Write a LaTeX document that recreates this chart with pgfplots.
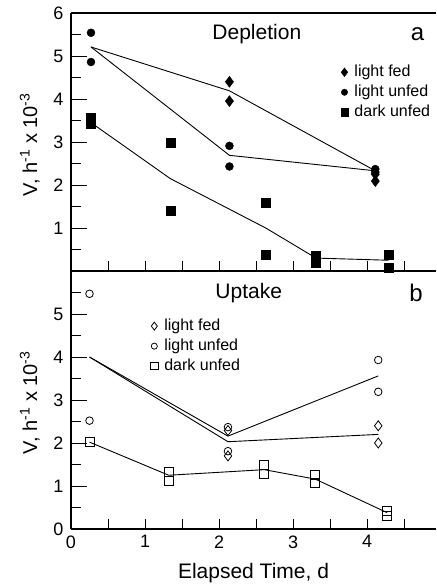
\documentclass[border=0pt]{standalone}
\usepackage{fontspec}
\setmainfont{Liberation Sans}
\usepackage{pgfplots}
\pgfplotsset{compat=1.18}
\pgfplotsset{
  panel/.style={
    scale only axis, width=365pt, height=258pt,
    xmin=0, xmax=4.93, ymin=0, ymax=6,
    axis x line=box, axis y line=left,
    y axis line style={-}, x axis line style={-},
    axis line style={line width=1.1pt},
    xtick={0,1,2,3,4}, major x tick style={draw=none},
    minor xtick={0.5,1,1.5,2,2.5,3,3.5,4,4.5},
    xtick pos=bottom, ytick pos=left,
    tick align=inside,
    major tick length=16pt, minor tick length=10pt,
    every tick/.style={black, line width=0.9pt},
    minor tick style={black, line width=0.9pt},
    /pgf/number format/assume math mode=true,
    tick label style={font=\fontsize{18}{18}\selectfont},
    yticklabel style={xshift=-4pt},
    xticklabel style={yshift=-3pt},
    ylabel={V, h\textsuperscript{-1} x 10\textsuperscript{-3}},
    ylabel style={at={(axis description cs:-0.113,0.49)}, anchor=center, font=\fontsize{20}{20}\selectfont},
    legend cell align=left,
    clip=false,
  },
  lfstyle/.style={black, line width=0.9pt},
  lm/.style={only marks, black,
    legend image code/.code={\path[draw=none, fill=none] (-5pt,-4pt) (9pt,4pt); \draw[##1, mark options={scale=0.8}] plot coordinates {(0pt,0pt)};}},
  leg/.style={draw=none, fill=none, anchor=north west,
    font=\fontsize{16}{16}\selectfont, inner sep=0pt, row sep=4pt,
    nodes={inner sep=1pt, text height=11pt, text depth=3pt}},
}
\begin{document}
\begin{tikzpicture}
\path[use as bounding box] (-71pt,-56pt) rectangle (365pt,529pt);
% ---------- top panel: Depletion ----------
\begin{axis}[panel, at={(0pt,258pt)}, anchor=south west,
  ytick={1,2,3,4,5,6}, minor ytick={0.5,1.5,2.5,3.5,4.5,5.5},
  xticklabels={},
  legend style={leg, at={(0.735,0.802)}},
]
\addplot[lm, mark=diamond*, mark size=5.5pt] coordinates {(2.14,4.40)(2.14,3.95)(4.11,2.25)(4.11,2.09)};
\addlegendentry{light fed}
\addplot[lm, mark=*, mark size=4pt] coordinates {(0.27,5.54)(0.27,4.86)(2.14,2.91)(2.14,2.43)(4.11,2.37)(4.11,2.30)};
\addlegendentry{light unfed}
\addplot[lm, mark=square*, mark size=4.5pt] coordinates {(0.27,3.56)(0.27,3.42)(1.34,2.98)(1.34,1.41)(2.63,1.59)(2.63,0.39)(3.31,0.35)(3.31,0.20)(4.29,0.37)(4.29,0.07)};
\addlegendentry{dark unfed}
\addplot[lfstyle, forget plot] coordinates {(0.27,5.21)(2.14,4.19)(4.11,2.33)};
\addplot[lfstyle, forget plot] coordinates {(0.27,5.21)(2.14,2.69)(4.11,2.33)};
\addplot[lfstyle, forget plot] coordinates {(0.27,3.45)(1.34,2.15)(2.63,1.0)(3.31,0.30)(4.29,0.25)};
\node[font=\fontsize{21}{21}\selectfont] at (axis cs:2.51,5.51) {Depletion};
\node[font=\fontsize{24}{24}\selectfont] at (axis cs:4.68,5.51) {a};
\end{axis}
% ---------- bottom panel: Uptake ----------
\begin{axis}[panel, at={(0pt,0pt)}, anchor=south west,
  ytick={0,1,2,3,4,5}, minor ytick={0.5,1.5,2.5,3.5,4.5,5.5},
  xticklabels={0,1,2,3,4},
  xlabel={Elapsed Time, d},
  xlabel style={at={(axis description cs:0.5,-0.17)}, anchor=center, font=\fontsize{21}{21}\selectfont},
  legend style={leg, at={(0.214,0.818)}},
]
\addplot[lm, mark=diamond, mark size=5pt, line width=0.8pt] coordinates {(2.12,2.29)(2.12,1.70)(4.15,2.40)(4.15,2.00)};
\addlegendentry{light fed}
\addplot[lm, mark=o, mark size=3.8pt, line width=0.8pt] coordinates {(0.25,5.47)(0.25,2.52)(2.12,2.37)(2.12,1.81)(4.15,3.93)(4.15,3.19)};
\addlegendentry{light unfed}
\addplot[lm, mark=square, mark size=4.5pt, line width=0.8pt] coordinates {(0.25,2.02)(1.32,1.33)(1.32,1.13)(2.61,1.50)(2.61,1.29)(3.30,1.25)(3.30,1.07)(4.27,0.42)(4.27,0.30)};
\addlegendentry{dark unfed}
\addplot[lfstyle, forget plot] coordinates {(0.25,4.0)(2.12,2.16)(4.15,3.56)};
\addplot[lfstyle, forget plot] coordinates {(0.25,4.0)(2.12,2.03)(4.15,2.20)};
\addplot[lfstyle, forget plot] coordinates {(0.25,2.02)(1.32,1.25)(2.61,1.38)(3.30,1.16)(4.27,0.38)};
\node[font=\fontsize{21}{21}\selectfont] at (axis cs:2.4,5.49) {Uptake};
\node[font=\fontsize{24}{24}\selectfont] at (axis cs:4.66,5.49) {b};
\end{axis}
\end{tikzpicture}
\end{document}
